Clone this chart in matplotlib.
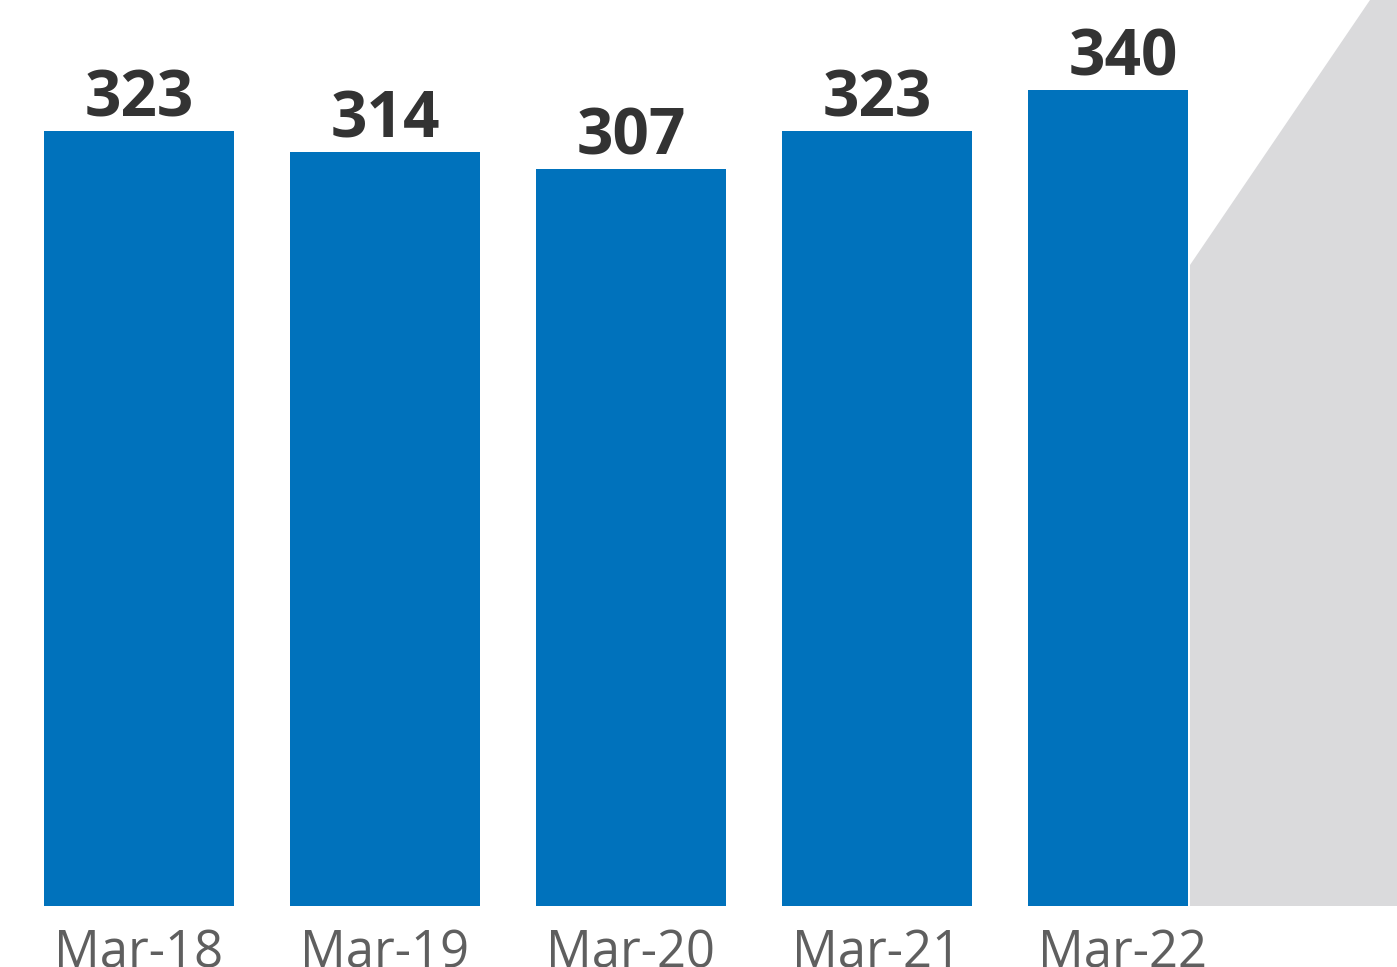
import matplotlib
matplotlib.use("Agg")
import matplotlib.pyplot as plt
from matplotlib.patches import Polygon

categories = ["Mar-18", "Mar-19", "Mar-20", "Mar-21", "Mar-22"]
values = [323, 314, 307, 323, 340]
bar_widths = [0.772, 0.772, 0.772, 0.772, 0.650]

W, H = 1397, 967
fig = plt.figure(figsize=(W / 100, H / 100), dpi=100)
fig.patch.set_facecolor("white")

# decorative grey shape on the right (figure pixel coords)
poly = Polygon([(1190 / W, 1 - 265 / H), (1370 / W, 1.0), (1.0, 1.0),
                (1.0, 1 - 906 / H), (1190 / W, 1 - 906 / H)],
               closed=True, transform=fig.transFigure,
               facecolor="#dadadc", edgecolor="none", zorder=0)
fig.patches.append(poly)

ax = fig.add_axes([0, 61 / H, 1, 906 / H])
ax.set_facecolor("none")
x = list(range(len(categories)))
lefts = [xi - 0.386 for xi in x]
ax.bar(lefts, values, width=bar_widths, align="edge", color="#0072bc", zorder=2)

ax.set_ylim(0, 906 / 2.4)
ax.set_xlim(-139 / 246, (1397 - 139) / 246)

for xi, v in zip(x, values):
    ax.annotate(str(v), xy=(xi, v), xytext=(0, 10.5), textcoords="offset points",
                ha="center", va="baseline", fontsize=46, fontweight="bold",
                family=["Open Sans", "DejaVu Sans"], color="#333333")

ax.set_xticks(x)
ax.set_xticklabels(categories, fontsize=36.5, color="#5f5f5f",
                   family=["Open Sans", "DejaVu Sans"])
ax.tick_params(axis="x", length=0, pad=16)
ax.set_yticks([])
for s in ax.spines.values():
    s.set_visible(False)

fig.savefig("out.png", dpi=100)
